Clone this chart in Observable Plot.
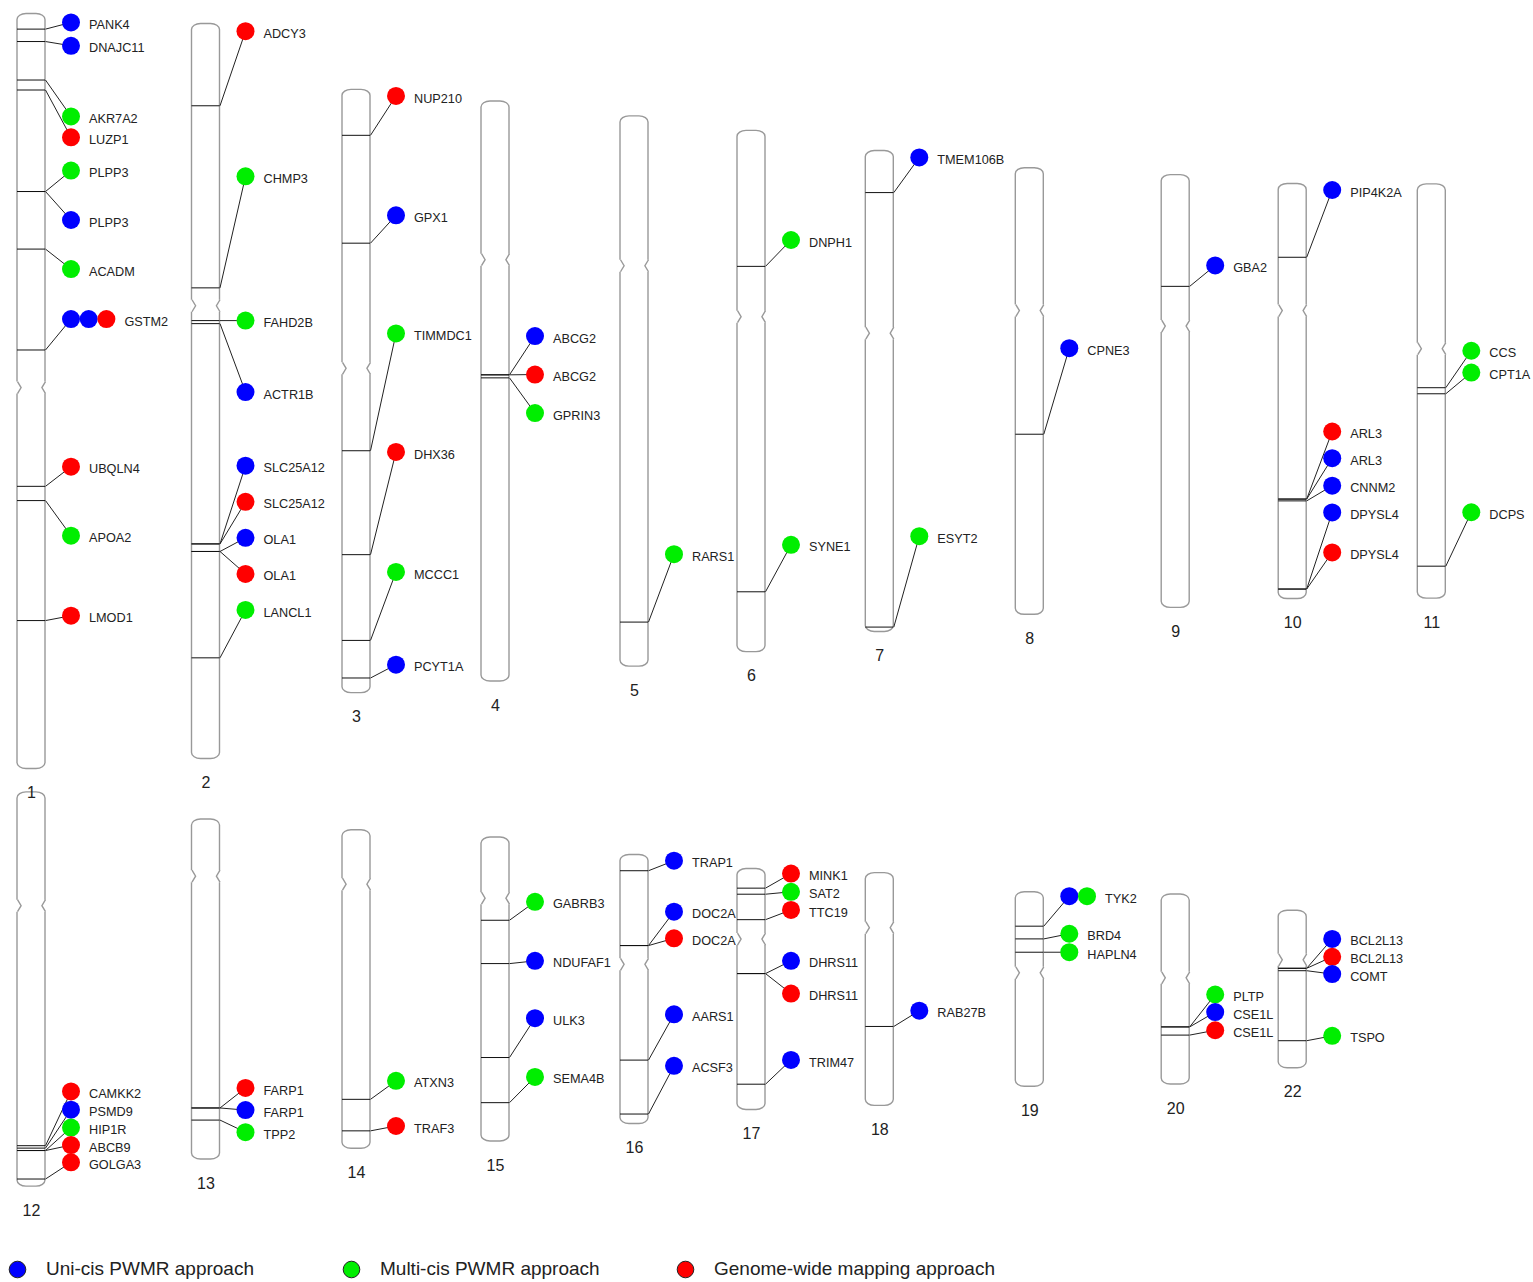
<!DOCTYPE html>
<html><head><meta charset="utf-8">
<script src="https://cdn.jsdelivr.net/npm/d3@7"></script>
<script src="https://cdn.jsdelivr.net/npm/@observablehq/plot@0.6"></script>
<style>
html,body{margin:0;padding:0;background:#fff;}
body{width:1533px;height:1282px;overflow:hidden;font-family:"Liberation Sans",Arial,Helvetica,sans-serif;}
#legend{display:flex;height:30px;align-items:center;}
.item{width:334px;display:flex;align-items:center;padding-left:8px;box-sizing:border-box;font-size:19px;color:#222;}
.item svg{margin-right:19px;display:block;}
</style></head><body>
<div id="chart"></div>
<div id="legend"></div>
<script>
// ---------------- data ----------------
const chromNames   = ["1","2","3","4","5","6","7","8","9","10","11","12","13","14","15","16","17","18","19","20","22"];
const chromLengths = [249.2,242.6,199.1,191.4,181.6,172.0,158.7,147.4,142.8,137.0,136.7,130.1,112.2,105.1,100.3,88.8,79.5,76.8,64.2,62.7,52.0];
const centromeres  = [123.3,93.0,91.9,52.2,49.3,61.3,60.1,47.0,49.8,41.8,54.2,37.4,18.7,17.8,20.0,36.1,23.1,18.0,26.6,27.5,16.2];
const topRow    = ["1","2","3","4","5","6","7","8","9","10","11"];
const bottomRow = ["12","13","14","15","16","17","18","19","20","22"];

const approachCodes = ["U","M","G"];
const approachNames = ["Uni-cis PWMR approach","Multi-cis PWMR approach","Genome-wide mapping approach"];

const geneChrom = ["1","1","1","1","1","1","1","1","1","1","1",
  "2","2","2","2","2","2","2","2","2",
  "3","3","3","3","3","3",
  "4","4","4",
  "5",
  "6","6",
  "7","7",
  "8",
  "9",
  "10","10","10","10","10","10",
  "11","11","11",
  "12","12","12","12","12",
  "13","13","13",
  "14","14",
  "15","15","15","15",
  "16","16","16","16","16",
  "17","17","17","17","17","17",
  "18",
  "19","19","19",
  "20","20","20",
  "22","22","22","22"];
const geneNames = ["PANK4","DNAJC11","AKR7A2","LUZP1","PLPP3","PLPP3","ACADM","GSTM2","UBQLN4","APOA2","LMOD1",
  "ADCY3","CHMP3","FAHD2B","ACTR1B","SLC25A12","SLC25A12","OLA1","OLA1","LANCL1",
  "NUP210","GPX1","TIMMDC1","DHX36","MCCC1","PCYT1A",
  "ABCG2","ABCG2","GPRIN3",
  "RARS1",
  "DNPH1","SYNE1",
  "TMEM106B","ESYT2",
  "CPNE3",
  "GBA2",
  "PIP4K2A","ARL3","ARL3","CNNM2","DPYSL4","DPYSL4",
  "CCS","CPT1A","DCPS",
  "CAMKK2","PSMD9","HIP1R","ABCB9","GOLGA3",
  "FARP1","FARP1","TPP2",
  "ATXN3","TRAF3",
  "GABRB3","NDUFAF1","ULK3","SEMA4B",
  "TRAP1","DOC2A","DOC2A","AARS1","ACSF3",
  "MINK1","SAT2","TTC19","DHRS11","DHRS11","TRIM47",
  "RAB27B",
  "TYK2","BRD4","HAPLN4",
  "PLTP","CSE1L","CSE1L",
  "BCL2L13","BCL2L13","COMT","TSPO"];
// gene position on chromosome (Mb from top)
const genePos = [5.0,9.1,21.8,25.1,58.6,58.6,77.6,110.9,155.9,160.6,200.2,
  27.0,87.1,97.9,98.9,171.6,171.6,174.1,174.1,209.2,
  15.0,50.6,119.1,153.4,181.7,194.1,
  90.2,90.2,91.2,
  166.9,
  44.7,152.1,
  13.7,157.1,
  87.8,
  36.7,
  24.2,104.0,104.0,104.6,133.7,133.7,
  67.1,69.1,126.0,
  116.6,117.4,118.2,118.2,127.6,
  95.2,95.2,99.2,
  88.8,99.2,
  27.3,41.6,72.6,87.5,
  5.2,29.9,29.9,67.7,85.5,
  6.3,8.3,16.7,34.5,34.5,71.0,
  50.6,
  11.2,15.4,19.8,
  43.7,43.7,46.4,
  19.0,19.0,19.8,42.9];
// label (circle) position, same units
const labelPos = [2.8,10.5,33.8,40.7,51.7,68.0,84.2,100.7,149.4,172.2,198.6,
  2.4,50.3,97.9,121.5,145.8,157.7,169.6,181.5,193.4,
  2.0,41.4,80.4,119.5,159.1,189.7,
  77.4,90.1,102.8,
  144.5,
  36.0,136.6,
  2.1,127.1,
  59.4,
  29.8,
  2.0,81.7,90.5,99.6,108.4,121.6,
  54.9,62.1,108.2,
  98.7,104.7,110.6,116.4,122.1,
  88.6,95.9,103.2,
  82.7,97.6,
  21.2,40.7,59.6,79.0,
  1.9,18.7,27.5,52.6,69.6,
  1.5,7.5,13.5,30.3,41.1,63.0,
  45.4,
  1.3,13.7,19.8,
  33.0,38.8,44.8,
  9.3,15.2,20.9,41.3];
const geneApproach = ["U","U","M","G","M","U","M","UUG","G","M","G",
  "G","M","M","U","U","G","U","G","M",
  "G","U","M","G","M","U",
  "U","G","M",
  "M",
  "M","M",
  "U","M",
  "U",
  "U",
  "U","G","U","U","U","G",
  "M","M","M",
  "G","U","M","G","G",
  "G","U","M",
  "M","G",
  "M","U","U","M",
  "U","U","G","U","U",
  "G","M","G","U","G","U",
  "U",
  "UM","M","M",
  "M","U","G",
  "U","G","U","M"];

// ---------------- layout ----------------
const WIDTH = 1533, HEIGHT = 1254;
const PX_PER_MB = 3.03;
const ROW_MID_PX = [391, 989];
const COLUMN_PX = [31, 205.5, 356, 495, 634, 751, 879.3, 1029.3, 1175.2, 1292.2, 1431.3];
const HALF_W = 14, DOT_DX = 39.5, DOT_STEP = 17.7, DOT_R = 9, LABEL_GAP = 18;
const NOTCH_H = 6, NOTCH_D = 3.6;
const COLORS = ["#0000ff", "#00ee00", "#ff0000"];

const rows = [topRow, bottomRow];
const rowOffset = ROW_MID_PX.map(p => (p - ROW_MID_PX[0]) / PX_PER_MB);
const chroms = chromNames.map((name, i) => {
  const row = rows.findIndex(r => r.includes(name));
  const col = rows[row].indexOf(name);
  const top = rowOffset[row] - chromLengths[i] / 2;
  return {name, row, col, top, bottom: top + chromLengths[i], cen: top + centromeres[i]};
});
const byName = new Map(chroms.map(c => [c.name, c]));
const genes = geneNames.map((name, i) => {
  const c = byName.get(geneChrom[i]);
  return {name, col: c.col, pos: c.top + genePos[i], label: c.top + labelPos[i], codes: [...geneApproach[i]]};
});
const circles = genes.flatMap(g => g.codes.map((code, slot) => ({col: g.col, label: g.label, code, slot})));

// custom symbols for the centromere pinch
const notchMask = {draw(ctx) {
  ctx.rect(-HALF_W - 1.8, -NOTCH_H, 3.6, 2 * NOTCH_H);
  ctx.rect(HALF_W - 1.8, -NOTCH_H, 3.6, 2 * NOTCH_H);
}};
const notchLines = {draw(ctx) {
  ctx.moveTo(-HALF_W, -NOTCH_H); ctx.lineTo(-HALF_W + NOTCH_D, 0); ctx.lineTo(-HALF_W, NOTCH_H);
  ctx.moveTo(HALF_W, -NOTCH_H); ctx.lineTo(HALF_W - NOTCH_D, 0); ctx.lineTo(HALF_W, NOTCH_H);
}};
// connector: from right edge of chromosome to first circle
function connectorCurve(context) {
  let i = 0;
  return {
    areaStart() {}, areaEnd() {},
    lineStart() { i = 0; },
    lineEnd() {},
    point(x, y) {
      if (i++ === 0) context.moveTo(x + HALF_W, y);
      else context.lineTo(x + DOT_DX, y);
    }
  };
}

const yDomain = [-ROW_MID_PX[0] / PX_PER_MB, (HEIGHT - ROW_MID_PX[0]) / PX_PER_MB];

const chart = Plot.plot({
  width: WIDTH,
  height: HEIGHT,
  margin: 0,
  x: {type: "linear", domain: d3.range(COLUMN_PX.length), range: COLUMN_PX, axis: null},
  y: {type: "linear", domain: yDomain, range: [0, HEIGHT], axis: null},
  color: {type: "ordinal", domain: approachCodes, range: COLORS},
  style: {fontFamily: '"Liberation Sans", Arial, Helvetica, sans-serif', background: "white", overflow: "visible"},
  marks: [
    Plot.rect(chroms, {x1: "col", x2: "col", y1: "top", y2: "bottom", insetLeft: -HALF_W, insetRight: -HALF_W,
      rx: 9, ry: 6, fill: "white", stroke: "#999", strokeWidth: 1.4}),
    Plot.dot(chroms, {x: "col", y: "cen", symbol: notchMask, fill: "white", stroke: "none"}),
    Plot.dot(chroms, {x: "col", y: "cen", symbol: notchLines, fill: "none", stroke: "#999", strokeWidth: 1.4}),
    Plot.ruleY(genes, {x1: "col", x2: "col", y: "pos", insetLeft: -HALF_W, insetRight: -HALF_W, stroke: "#111", strokeWidth: 1}),
    Plot.link(genes, {x1: "col", x2: "col", y1: "pos", y2: "label", curve: connectorCurve, stroke: "#222", strokeWidth: 1}),
    ...[0, 1, 2].map(s => Plot.dot(circles.filter(c => c.slot === s),
      {x: "col", y: "label", r: DOT_R, fill: "code", stroke: "none", dx: DOT_DX + s * DOT_STEP})),
    ...[1, 2, 3].map(n => Plot.text(genes.filter(g => g.codes.length === n),
      {x: "col", y: "label", text: "name", textAnchor: "start", dx: DOT_DX + (n - 1) * DOT_STEP + LABEL_GAP, dy: 2.5,
       fontSize: 12.7, fill: "#222"})),
    Plot.text(chroms, {x: "col", y: "bottom", text: "name", dy: 24, fontSize: 16, fill: "#222"})
  ]
});
document.getElementById("chart").append(chart);

// legend
const legend = d3.select("#legend");
approachCodes.forEach((code, i) => {
  const item = legend.append("div").attr("class", "item");
  const svg = item.append("svg").attr("width", 19).attr("height", 19);
  svg.append("circle").attr("cx", 9.5).attr("cy", 9.5).attr("r", 8.3)
    .attr("fill", COLORS[i]).attr("stroke", "#222").attr("stroke-width", 1);
  item.append("span").text(approachNames[i]);
});
</script></body></html>
